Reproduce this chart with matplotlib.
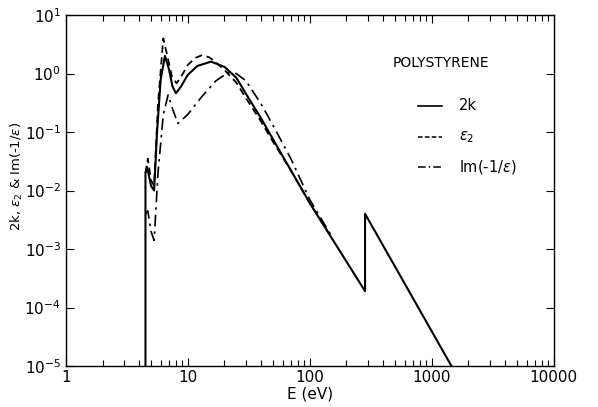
import numpy as np
import matplotlib
matplotlib.use("Agg")
import matplotlib.pyplot as plt
from matplotlib.ticker import LogLocator, FixedLocator, NullFormatter, NullLocator

# 2k (solid): threshold, two peaks, power-law tail and C K-edge
E_2k = [4.5, 4.5, 4.65, 5.0, 5.3, 5.6, 6.0, 6.5, 7.0, 7.5, 8.0, 8.8, 10, 12, 15.5,
        20, 25, 30, 40, 50, 100, 284, 284, 1450]
v_2k = [1e-5, 0.02, 0.025, 0.012, 0.01, 0.1, 0.8, 2.0, 1.2, 0.6, 0.46, 0.6, 0.95, 1.35, 1.6,
        1.3, 0.85, 0.45, 0.17, 0.075, 6.1e-3, 1.9e-4, 4e-3, 1e-5]

# eps2 (dashed)
E_eps2 = [4.5, 4.7, 5.0, 5.3, 5.7, 6.3, 6.8, 7.4, 8.1, 9, 10, 11.5, 13, 15,
          18, 20, 25, 30, 40, 50, 70, 100, 150]
v_eps2 = [0.02, 0.035, 0.015, 0.012, 0.3, 4.0, 2.0, 0.9, 0.68, 0.95, 1.4, 1.85, 2.05, 1.9,
          1.4, 1.15, 0.7, 0.38, 0.15, 0.068, 0.022, 6.1e-3, 1.6e-3]

# Im(-1/eps) (dash-dot)
E_elf = [4.5, 4.7, 5.0, 5.3, 5.7, 6.3, 6.9, 7.5, 8.3, 10, 13, 17, 21.5,
         25, 30, 40, 50, 70, 100, 150]
v_elf = [4e-3, 4.5e-3, 2e-3, 1.4e-3, 0.02, 0.2, 0.43, 0.25, 0.14, 0.2, 0.4, 0.75, 1.05,
         1.0, 0.75, 0.3, 0.13, 0.035, 7e-3, 1.7e-3]

legend_names = ["2k", r"$\epsilon_2$", r"Im(-1/$\epsilon$)"]

fig = plt.figure(figsize=(5.98, 4.07), dpi=100)
ax = fig.add_axes([0.110, 0.1007, 0.816, 0.8623])

ax.plot(E_2k, v_2k, color="black", lw=1.5, ls="-")
ax.plot(E_eps2, v_eps2, color="black", lw=1.3, ls=(0, (4, 2.5)))
ax.plot(E_elf, v_elf, color="black", lw=1.2, ls=(0, (7, 3, 1.5, 3)))

ax.set_xscale("log")
ax.set_yscale("log")
ax.set_xlim(1, 10000)
ax.set_ylim(1e-5, 10)

ax.xaxis.set_major_locator(FixedLocator([1, 10, 100, 1000, 10000]))
ax.set_xticklabels(["1", "10", "100", "1000", "10000"])
ax.xaxis.set_minor_locator(LogLocator(base=10, subs=np.arange(2, 10)))
ax.xaxis.set_minor_formatter(NullFormatter())
ax.yaxis.set_major_locator(LogLocator(base=10, numticks=10))
ax.yaxis.set_minor_locator(NullLocator())

ax.tick_params(which="both", direction="in", top=True, right=True, labelsize=11, width=0.8)
ax.tick_params(which="major", length=6)
ax.tick_params(which="minor", length=4, labelbottom=False, labelleft=False)
ax.tick_params(axis="x", pad=3)
for s in ax.spines.values():
    s.set_linewidth(1.0)

ax.set_xlabel("E (eV)", fontsize=11, labelpad=1)
ax.set_ylabel(r"2k, $\epsilon_2$ & Im(-1/$\epsilon$)", fontsize=9.5)
ax.yaxis.set_label_coords(-0.084, 0.54)

# hand-drawn style legend
ax.text(0.670, 0.863, "POLYSTYRENE", transform=ax.transAxes, fontsize=10, va="center")
styles = [dict(ls="-", lw=1.2), dict(ls=(0, (3, 1.5)), lw=1.1), dict(ls=(0, (5, 2, 1, 2)), lw=1.1)]
ys = [0.741, 0.652, 0.567]
for name, st, yy in zip(legend_names, styles, ys):
    ax.plot([0.722, 0.772], [yy, yy], transform=ax.transAxes, color="black", **st)
    ax.text(0.805, yy, name, transform=ax.transAxes, fontsize=10.5, va="center")

fig.savefig("out.png", dpi=100)
